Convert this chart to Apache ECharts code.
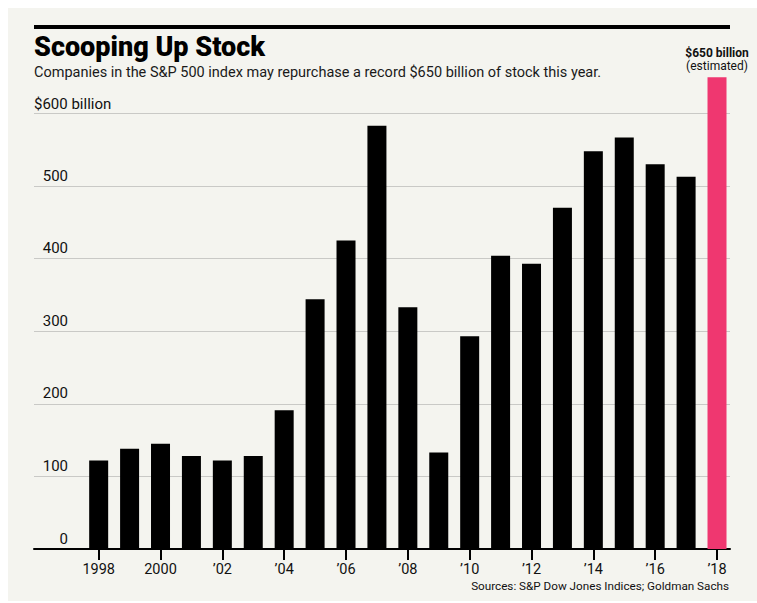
<!DOCTYPE html>
<html>
<head>
<meta charset="utf-8">
<script src="https://cdn.jsdelivr.net/npm/echarts@6/dist/echarts.min.js"></script>
<style>
  html, body { margin: 0; padding: 0; background: #ffffff; }
  #panel { position: absolute; left: 8px; top: 8px; width: 749px; height: 593px; background: #f4f4ef; }
  #chart { position: absolute; left: 0; top: 0; width: 757px; height: 603px; }
</style>
</head>
<body>
<div id="panel"></div>
<div id="chart"></div>
<script>
// ---- data ----
const years = [1998, 1999, 2000, 2001, 2002, 2003, 2004, 2005, 2006, 2007, 2008,
               2009, 2010, 2011, 2012, 2013, 2014, 2015, 2016, 2017, 2018];
const buybacks = [122, 138, 145, 128, 122, 128, 191, 344, 425, 583, 333,
                  133, 293, 404, 393, 470, 548, 567, 530, 513, 650];
const estimatedYear = 2018;
const xTickYears = [1998, 2000, 2002, 2004, 2006, 2008, 2010, 2012, 2014, 2016, 2018];
const yTicks = [0, 100, 200, 300, 400, 500, 600];

const titleText = 'Scooping Up Stock';
const subtitleText = 'Companies in the S&P 500 index may repurchase a record $650 billion of stock this year.';
const sourceText = 'Sources: S&P Dow Jones Indices; Goldman Sachs';

const FONT = 'Roboto, "Liberation Sans", Arial, sans-serif';

const chart = echarts.init(document.getElementById('chart'), null, { renderer: 'svg' });

const barData = years.map((y, i) => {
  const item = { value: [y, buybacks[i]] };
  if (y === estimatedYear) {
    item.itemStyle = { color: '#ef3770' };
    item.label = {
      show: true,
      position: 'top',
      distance: 5,
      formatter: '{b|$650 billion}\n{n|(estimated)}',
      rich: {
        b: { fontFamily: FONT, fontWeight: 'bold', fontSize: 12, color: '#111', lineHeight: 12, align: 'center' },
        n: { fontFamily: FONT, fontSize: 12, color: '#111', lineHeight: 13, align: 'center' }
      }
    };
  }
  return item;
});

const option = {
  backgroundColor: 'transparent',
  animation: false,
  grid: { left: 34, right: 27, top: 113.5, bottom: 54, containLabel: false },
  xAxis: {
    type: 'value',
    min: 1995.908,
    max: 2018.42,
    splitLine: { show: false },
    axisLine: { show: true, onZero: false, lineStyle: { color: '#000', width: 2 } },
    axisTick: {
      show: true, length: 11, customValues: xTickYears,
      lineStyle: { color: '#000', width: 2 }
    },
    axisLabel: {
      show: true, customValues: xTickYears, margin: 13,
      fontFamily: FONT, fontSize: 14.5, color: '#111',
      formatter: function (v) {
        if (v === 1998 || v === 2000) return String(v);
        return '\u2019' + String(v).slice(2);
      }
    }
  },
  yAxis: {
    type: 'value',
    min: 0, max: 600, interval: 100,
    axisLine: { show: false },
    axisTick: { show: false },
    splitLine: { show: true, lineStyle: { color: '#c9c9c6', width: 1 } },
    axisLabel: {
      show: true, inside: true, align: 'right', verticalAlign: 'bottom',
      margin: 34, padding: [0, 0, 3, 0],
      fontFamily: FONT, fontSize: 15, color: '#111',
      formatter: function (v) { return v === 600 ? '' : String(v); }
    }
  },
  graphic: [
    { type: 'rect', left: 34, top: 25, shape: { width: 696, height: 4 }, style: { fill: '#000' } },
    { type: 'text', left: 34, top: 33, style: { text: titleText, fontFamily: FONT, fontWeight: 900, fontSize: 27, fill: '#000' } },
    { type: 'text', left: 34, top: 65, style: { text: subtitleText, fontFamily: FONT, fontSize: 14.5, fill: '#1a1a1a' } },
    { type: 'text', left: 34, top: 96, style: { text: '$600 billion', fontFamily: FONT, fontSize: 15, fill: '#111' } },
    { type: 'text', right: 28, top: 580, style: { text: sourceText, fontFamily: FONT, fontSize: 11.7, fill: '#111' } }
  ],
  series: [{
    type: 'bar',
    data: barData,
    barWidth: 19,
    clip: false,
    itemStyle: { color: '#000' },
    z: 3
  }]
};

chart.setOption(option);
</script>
</body>
</html>
